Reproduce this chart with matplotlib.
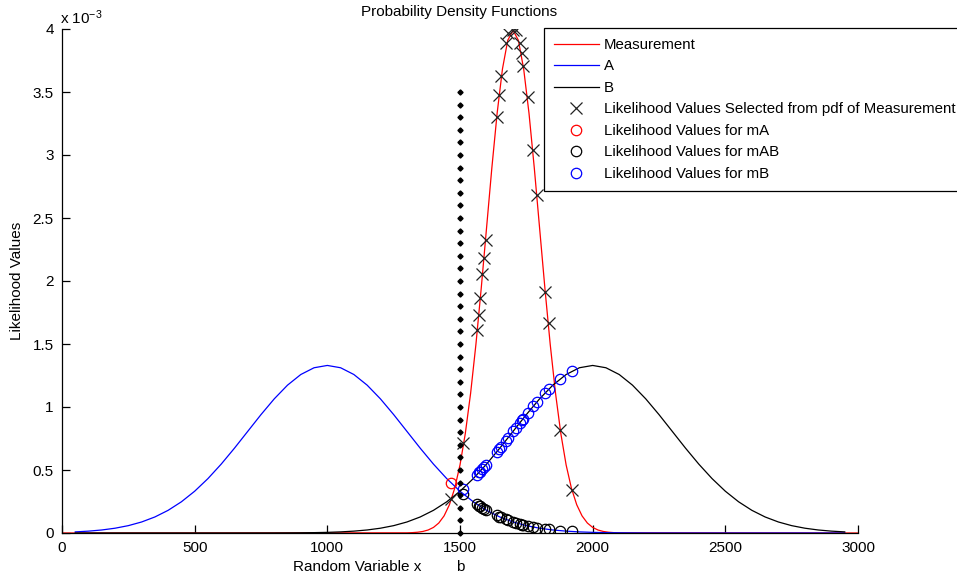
import numpy as np
import matplotlib
matplotlib.use('Agg')
import matplotlib.pyplot as plt

plt.rcParams['font.family'] = ['Liberation Sans', 'DejaVu Sans']
plt.rcParams['mathtext.default'] = 'regular'

# pdf curves, values in units of 1e-3
ab_x = list(range(50, 3000, 50))
a_pdf = [0.0088, 0.0148, 0.0240, 0.0380, 0.0584, 0.0874, 0.1272, 0.1800, 0.2477,
         0.3316, 0.4317, 0.5467, 0.6733, 0.8066, 0.9397, 1.0648, 1.1735, 1.2579, 1.3115,
         1.3298, 1.3115, 1.2579, 1.1735, 1.0648, 0.9397, 0.8066, 0.6733, 0.5467, 0.4317,
         0.3316, 0.2477, 0.1800, 0.1272, 0.0874, 0.0584, 0.0380, 0.0240, 0.0148, 0.0088,
         0.0051, 0.0029, 0.0016, 0.0009, 0.0004, 0.0002, 0.0001, 0, 0, 0,
         0, 0, 0, 0, 0, 0, 0, 0, 0, 0]
b_pdf = [0, 0, 0, 0, 0, 0, 0, 0, 0, 0,
         0, 0, 0, 0.0001, 0.0002, 0.0004, 0.0009, 0.0016, 0.0029, 0.0051,
         0.0088, 0.0148, 0.0240, 0.0380, 0.0584, 0.0874, 0.1272, 0.1800, 0.2477, 0.3316,
         0.4317, 0.5467, 0.6733, 0.8066, 0.9397, 1.0648, 1.1735, 1.2579, 1.3115, 1.3298,
         1.3115, 1.2579, 1.1735, 1.0648, 0.9397, 0.8066, 0.6733, 0.5467, 0.4317, 0.3316,
         0.2477, 0.1800, 0.1272, 0.0874, 0.0584, 0.0380, 0.0240, 0.0148, 0.0088]

meas_x = [0] + list(range(1300, 2101, 20)) + [3000]
meas_pdf = [0,
            0.0013, 0.0029, 0.0061, 0.0123, 0.0238, 0.0443, 0.0791, 0.1358, 0.2239, 0.3547,
            0.5399, 0.7895, 1.1092, 1.4973, 1.9419, 2.4197, 2.8969, 3.3322, 3.6827, 3.9104,
            3.9894,
            3.9104, 3.6827, 3.3322, 2.8969, 2.4197, 1.9419, 1.4973, 1.1092, 0.7895, 0.5399,
            0.3547, 0.2239, 0.1358, 0.0791, 0.0443, 0.0238, 0.0123, 0.0061, 0.0029, 0.0013,
            0]

# likelihood samples
samp_x = [1465, 1511, 1563, 1573, 1575, 1584, 1592, 1597, 1638, 1647, 1653, 1672, 1681,
          1700, 1711, 1726, 1734, 1737, 1755, 1775, 1790, 1820, 1835, 1877, 1923]
samp_meas = [0.267, 0.714, 1.611, 1.730, 1.867, 2.056, 2.185, 2.325, 3.300, 3.476, 3.630,
             3.890, 3.970, 3.990, 3.990, 3.890, 3.810, 3.710, 3.460, 3.040, 2.680, 1.915,
             1.669, 0.817, 0.341]

ma_x = [1465]
ma_y = [0.400]

mb_x = samp_x[1:]
mb_y = [0.352, 0.460, 0.483, 0.488, 0.509, 0.527, 0.540, 0.642, 0.665, 0.681, 0.732, 0.756,
        0.807, 0.836, 0.876, 0.898, 0.906, 0.953, 1.004, 1.041, 1.111, 1.143, 1.223, 1.287]
mab_y = [0.312, 0.229, 0.215, 0.212, 0.200, 0.190, 0.184, 0.139, 0.130, 0.124, 0.108, 0.101,
         0.087, 0.080, 0.071, 0.067, 0.065, 0.056, 0.047, 0.041, 0.032, 0.028, 0.019, 0.012]

b_val = 1500
b_line_y = [i / 10 for i in range(0, 36)]

fig = plt.figure(figsize=(9.57, 5.81), dpi=100)
ax = fig.add_axes([62 / 957, 48 / 581, 796 / 957, 504 / 581])

sc = 1e-3
fs = 11
ax.plot(meas_x, np.array(meas_pdf) * sc, color='red', lw=0.9, label='Measurement')
ax.plot(ab_x, np.array(a_pdf) * sc, color='blue', lw=0.9, label='A')
ax.plot(ab_x, np.array(b_pdf) * sc, color='black', lw=0.9, label='B')
ax.plot(samp_x, np.array(samp_meas) * sc, 'x', color='#222222', ms=9, mew=0.9,
        label='Likelihood Values Selected from pdf of Measurement')
ax.plot(ma_x, np.array(ma_y) * sc, 'o', mfc='none', mec='red', ms=7.5, mew=0.9,
        label='Likelihood Values for mA')
ax.plot(mb_x, np.array(mab_y) * sc, 'o', mfc='none', mec='black', ms=7.5, mew=0.9,
        label='Likelihood Values for mAB')
ax.plot(mb_x, np.array(mb_y) * sc, 'o', mfc='none', mec='blue', ms=7.5, mew=0.9,
        label='Likelihood Values for mB')
ax.plot([b_val] * len(b_line_y), np.array(b_line_y) * sc, 'D', color='black', ms=2.6,
        clip_on=False)

ax.set_xlim(0, 3000)
ax.set_ylim(0, 4e-3)
ax.set_xticks(range(0, 3001, 500))
ax.set_yticks(np.arange(0, 4.01, 0.5) * sc)
ax.set_yticklabels(['0', '0.5', '1', '1.5', '2', '2.5', '3', '3.5', '4'])
ax.tick_params(direction='in', length=6, width=0.9, labelsize=fs, pad=6)
ax.spines['top'].set_visible(False)
ax.spines['right'].set_visible(False)
for s in ['left', 'bottom']:
    ax.spines[s].set_linewidth(0.9)

fig.text(459 / 957, 1 - 12 / 581, 'Probability Density Functions', ha='center', va='center',
         fontsize=fs)
fig.text(60 / 957, 1 - 18 / 581, r'x 10$^{-3}$', ha='left', va='center', fontsize=fs)
fig.text(17 / 957, 1 - 281 / 581, 'Likelihood Values', rotation=90, ha='center',
         va='center', fontsize=fs)
fig.text(357 / 957, 1 - 567 / 581, 'Random Variable x', ha='center', va='center', fontsize=fs)
fig.text(460 / 957, 1 - 567 / 581, 'b', ha='center', va='center', fontsize=fs)

leg = fig.legend(loc='upper left', bbox_to_anchor=(544 / 957, 1 - 28 / 581), fontsize=10.8,
                 frameon=True, fancybox=False, edgecolor='black', framealpha=1,
                 handlelength=3.0, handletextpad=0.33, labelspacing=0.5,
                 borderpad=0.65, borderaxespad=0)
leg.get_frame().set_linewidth(0.9)

fig.savefig('out.png', dpi=100)
